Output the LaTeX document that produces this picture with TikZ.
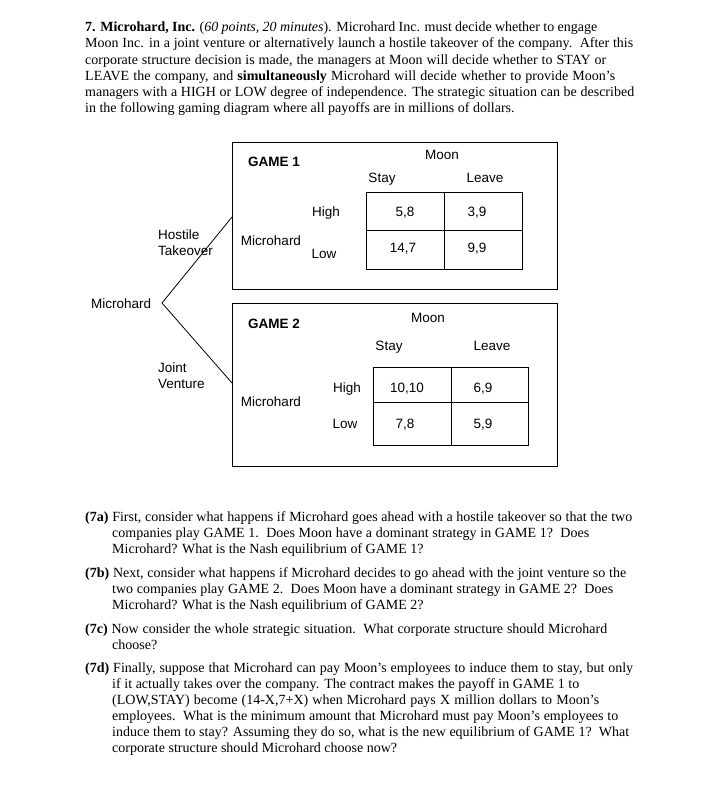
\documentclass[tikz,border=0pt]{standalone}
\usepackage{fontspec}
\setmainfont{Liberation Serif}
\newfontfamily\dsans{Liberation Sans}
\newcommand{\fitline}[2]{\makebox[#1pt][s]{#2}}
\begin{document}
\begin{tikzpicture}[x=1pt,y=-1pt,
  txt/.style={anchor=base west, inner sep=0pt, font=\fontsize{14}{16}\selectfont},
  lbl/.style={anchor=base, inner sep=0pt, font=\dsans\fontsize{13.5}{16}\selectfont},
  lbll/.style={anchor=base west, inner sep=0pt, font=\dsans\fontsize{13.5}{16}\selectfont},
  ttl/.style={anchor=base west, inner sep=0pt, font=\dsans\bfseries\fontsize{13.5}{16}\selectfont},
  frame/.style={draw=black, line width=0.9pt},
  grid/.style={draw=black, line width=0.9pt},
  branch/.style={draw=black, line width=0.8pt}]
\fill[white] (0,0) rectangle (719,802);
\useasboundingbox (0,0) rectangle (719,802);

% intro paragraph
\node[txt] (p1) at (85,32) {\fitline{512}{\textbf{7. Microhard, Inc.} (\textit{60 points, 20 minutes}). Microhard Inc. must decide whether to engage}};
\node[txt] (p2) at (85,48) {\fitline{548}{Moon Inc. in a joint venture or alternatively launch a hostile takeover of the company.\ \ After this}};
\node[txt] (p3) at (85,65) {\fitline{521}{corporate structure decision is made, the managers at Moon will decide whether to STAY or}};
\node[txt] (p4) at (85,81) {\fitline{530}{LEAVE the company, and \textbf{simultaneously} Microhard will decide whether to provide Moon's}};
\node[txt] (p5) at (85,97) {\fitline{549}{managers with a HIGH or LOW degree of independence. The strategic situation can be described}};
\node[txt] (p6) at (85,113) {in the following gaming diagram where all payoffs are in millions of dollars.};

% game boxes
\draw[frame] (232,142) rectangle (557,289);
\draw[frame] (232,303) rectangle (557,466);

% GAME 1
\node[ttl] (t1) at (248,167) {GAME 1};
\node[lbl] (moon1) at (442,160) {Moon};
\node[lbl] (stay1) at (382,183) {Stay};
\node[lbl] (leave1) at (485,183) {Leave};
\node[lbl] (high1) at (326,217) {High};
\node[lbl] (low1) at (324,258) {Low};
\node[lbl] (mh1) at (271,245) {Microhard};
\draw[grid] (366,192) rectangle (522,269);
\draw[grid] (366,230) -- (522,230);
\draw[grid] (444,192) -- (444,269);
\node[lbl] (a11) at (405,217) {5,8};
\node[lbl] (a12) at (477,217) {3,9};
\node[lbl] (a21) at (403,252) {14,7};
\node[lbl] (a22) at (477,252) {9,9};

% GAME 2
\node[ttl] (t2) at (248,328) {GAME 2};
\node[lbl] (moon2) at (428,322) {Moon};
\node[lbl] (stay2) at (389,350) {Stay};
\node[lbl] (leave2) at (492,350) {Leave};
\node[lbl] (high2) at (347,392) {High};
\node[lbl] (low2) at (345,428) {Low};
\node[lbl] (mh2) at (271,406) {Microhard};
\draw[grid] (373,367) rectangle (528,445);
\draw[grid] (373,402) -- (528,402);
\draw[grid] (451,367) -- (451,445);
\node[lbl] (b11) at (407,392) {10,10};
\node[lbl] (b12) at (483,392) {6,9};
\node[lbl] (b21) at (405,428) {7,8};
\node[lbl] (b22) at (483,428) {5,9};

% tree
\node[lbll] (root) at (91,308) {Microhard};
\node[lbll] (hos) at (158,239) {Hostile};
\node[lbll] (tak) at (158,255) {Takeover};
\node[lbll] (joi) at (158,372) {Joint};
\node[lbll] (ven) at (158,388) {Venture};
\coordinate (v) at (162,303);
\coordinate (e1) at (232,217);
\coordinate (e2) at (232,383);
\draw[branch] (e1) -- (v) -- (e2);

% questions
\node[txt] (qa1) at (85,521) {\fitline{547}{\textbf{(7a)} First, consider what happens if Microhard goes ahead with a hostile takeover so that the two}};
\node[txt] (qa2) at (112,537) {\fitline{477}{companies play GAME 1.\ \ Does Moon have a dominant strategy in GAME 1?\ \ Does}};
\node[txt] (qa3) at (112,553) {Microhard? What is the Nash equilibrium of GAME 1?};
\node[txt] (qb1) at (85,577) {\fitline{541}{\textbf{(7b)} Next, consider what happens if Microhard decides to go ahead with the joint venture so the}};
\node[txt] (qb2) at (112,593) {\fitline{501}{two companies play GAME 2.\ \ Does Moon have a dominant strategy in GAME 2?\ \ Does}};
\node[txt] (qb3) at (112,609) {Microhard? What is the Nash equilibrium of GAME 2?};
\node[txt] (qc1) at (85,633) {\fitline{522}{\textbf{(7c)} Now consider the whole strategic situation.\ \ What corporate structure should Microhard}};
\node[txt] (qc2) at (112,649) {choose?};
\node[txt] (qd1) at (85,672) {\fitline{548}{\textbf{(7d)} Finally, suppose that Microhard can pay Moon's employees to induce them to stay, but only}};
\node[txt] (qd2) at (112,688) {\fitline{467}{if it actually takes over the company. The contract makes the payoff in GAME 1 to}};
\node[txt] (qd3) at (112,704) {\fitline{487}{(LOW,STAY) become (14-X,7+X) when Microhard pays X million dollars to Moon's}};
\node[txt] (qd4) at (112,720) {\fitline{506}{employees.\ \ What is the minimum amount that Microhard must pay Moon's employees to}};
\node[txt] (qd5) at (112,736) {\fitline{517}{induce them to stay? Assuming they do so, what is the new equilibrium of GAME 1?\ \ What}};
\node[txt] (qd6) at (112,752) {corporate structure should Microhard choose now?};
\end{tikzpicture}
\end{document}
